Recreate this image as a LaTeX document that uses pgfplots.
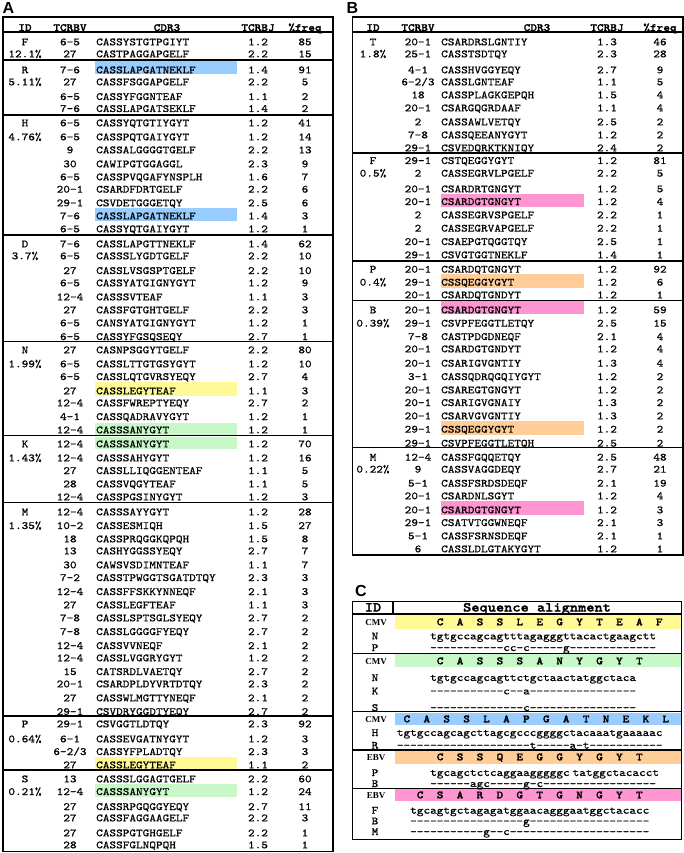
\documentclass[border=0pt]{standalone}
\usepackage{fontspec}
\setmonofont{lmmono10-regular}[Extension=.otf, BoldFont=lmmonolt10-bold, FakeStretch=1.15,
  UprightFeatures={FakeBold=0.6}, BoldFeatures={FakeBold=1.6}]
\newfontfamily\hel{Liberation Sans}
\newfontfamily\tms{Liberation Serif}
\usepackage{pgfplots}
\pgfplotsset{compat=1.18}
\usepackage{pgfplotstable}
\newcommand\tf{\ttfamily\fontsize{11}{13}\selectfont}
\newcommand\tfb{\ttfamily\bfseries\fontsize{11}{13}\selectfont}
\definecolor{hblue}{RGB}{153,204,255}
\definecolor{hyel}{RGB}{255,250,150}
\definecolor{hgrn}{RGB}{200,248,200}
\definecolor{hpink}{RGB}{255,150,210}
\definecolor{horg}{RGB}{255,205,152}
\pgfplotsset{txt/.style={draw=none, mark=none, nodes near coords, point meta=explicit symbolic,
  every node near coord/.append style={font=\tf, anchor=#1, inner sep=0pt, text=black}}}
% helpers (arguments substituted at call time)
\newcommand\hlA[1]{\draw[line width=1.1pt] (axis cs:3,#1) -- (axis cs:333,#1);}
\newcommand\hlB[1]{\draw[line width=1.1pt] (axis cs:352.7,#1) -- (axis cs:683,#1);}
\newcommand\hlC[1]{\draw[line width=1.1pt] (axis cs:352.7,#1) -- (axis cs:681.7,#1);}
\newcommand\lab[3]{\node[font=\tf, anchor=base, inner sep=0pt] at (axis cs:#1,#2+3.3) {#3};}
\newcommand\hdr[2]{\node[font=\tfb, anchor=base, inner sep=0pt] at (axis cs:#1,31) {#2};}
\newcommand\cmv[2]{\node[font=\tms\bfseries\fontsize{9}{10}\selectfont, anchor=base, inner sep=0pt] at (axis cs:376,#1) {#2};}
\newcommand\cid[2]{\node[font=\tf, anchor=base, inner sep=0pt] at (axis cs:375,#1) {#2};}
% one amino acid per codon (3 characters wide)
\newcommand\ac[1]{\makebox[19.92pt][c]{#1}}
\newcommand\aarow[3]{\node[font=\tfb, anchor=base west, inner sep=0pt] at (axis cs:#1,#2) {#3};}

\pgfplotstableread{
y bv cdr j f
42 6-5 CASSYSTGTPGIYT 1.2 85
54 27 CASTPAGGAPGELF 2.2 15
70 7-6 CASSLAPGATNEKLF 1.4 91
82 27 CASSFSGGAPGELF 2.2 5
96.7 6-5 CASSYFGGNTEAF 1.1 2
108.7 7-6 CASSLAPGATSEKLF 1.4 2
123 6-5 CASSYQTGTIYGYT 1.2 41
137 6-5 CASSPQTGAIYGYT 1.2 14
150 9 CASSALGGGGTGELF 2.2 13
164 30 CAWIPGTGGAGGL 2.3 9
177 6-5 CASSPVQGAFYNSPLH 1.6 7
189.3 20-1 CSARDFDRTGELF 2.2 6
203 29-1 CSVDETGGGETQY 2.5 6
216 7-6 CASSLAPGATNEKLF 1.4 3
229 6-5 CASSYQTGAIYGYT 1.2 1
244 7-6 CASSLAPGTTNEKLF 1.4 62
256 6-5 CASSSLYGDTGELF 2.2 10
270.7 27 CASSLVSGSPTGELF 2.2 10
283 6-5 CASSYATGIGNYGYT 1.2 9
297 12-4 CASSSVTEAF 1.1 3
310 27 CASSFGTGHTGELF 2.2 3
323 6-5 CANSYATGIGNYGYT 1.2 1
336.7 6-5 CASSYFGSQSEQY 2.7 1
350 27 CASNPSGGYTGELF 2.2 80
364 6-5 CASSLTTGTGSYGYT 1.2 10
376.7 6-5 CASSLQTGVRSYEQY 2.7 4
391 27 CASSLEGYTEAF 1.1 3
403 12-4 CASSFWREPTYEQY 2.7 2
416.7 4-1 CASSQADRAVYGYT 1.2 1
430 12-4 CASSSANYGYT 1.2 1
444 12-4 CASSSANYGYT 1.2 70
458 12-4 CASSSAHYGYT 1.2 16
470.7 27 CASSLLIQGGENTEAF 1.1 5
484 28 CASSVQGYTEAF 1.1 5
497 12-4 CASSPGSINYGYT 1.2 3
512 12-4 CASSSAYYGYT 1.2 28
525.7 10-2 CASSESMIQH 1.5 27
539 18 CASSPRQGGKQPQH 1.5 8
551 13 CASHYGGSSYEQY 2.7 7
565 30 CAWSVSDIMNTEAF 1.1 7
577.7 7-2 CASSTPWGGTSGATDTQY 2.3 3
591.7 12-4 CASSFFSKKYNNEQF 2.1 3
605 27 CASSLEGFTEAF 1.1 3
618 7-8 CASSLSPTSGLSYEQY 2.7 2
631.7 7-8 CASSLGGGGFYEQY 2.7 2
645.7 12-4 CASSVVNEQF 2.1 2
658 12-4 CASSLVGGRYGYT 1.2 2
671.7 15 CATSRDLVAETQY 2.7 2
684 20-1 CSARDPLDYVRTDTQY 2.3 2
698 27 CASSWLMGTTYNEQF 2.1 2
711.7 29-1 CSVDRYGGDTYEQY 2.7 2
724 29-1 CSVGGTLDTQY 2.3 92
739 6-1 CASSEVGATNYGYT 1.2 3
751.7 6-2/3 CASSYFPLADTQY 2.3 3
765 27 CASSLEGYTEAF 1.1 2
779 13 CASSSLGGAGTGELF 2.2 60
791.7 12-4 CASSSANYGYT 1.2 24
806.7 27 CASSRPGQGGYEQY 2.7 11
818 27 CASSFAGGAAGELF 2.2 3
833 27 CASSPGTGHGELF 2.2 1
845 28 CASSFGLNQPQH 1.5 1
}\tabA

\pgfplotstableread{
y bv cdr j f
42 20-1 CSARDRSLGNTIY 1.3 46
54 25-1 CASSTSDTQY 2.3 28
70 4-1 CASSHVGGYEQY 2.7 9
82 6-2/3 CASSLGNTEAF 1.1 5
95 18 CASSPLAGKGEPQH 1.5 4
108 20-1 CSARGQGRDAAF 1.1 4
122 2 CASSAWLVETQY 2.5 2
135 7-8 CASSQEEANYGYT 1.2 2
148 29-1 CSVEDQRKTKNIQY 2.4 2
160.7 29-1 CSTQEGGYGYT 1.2 81
173.3 2 CASSEGRVLPGELF 2.2 5
189 20-1 CSARDRTGNGYT 1.2 5
201.7 20-1 CSARDGTGNGYT 1.2 4
215 2 CASSEGRVSPGELF 2.2 1
228.3 2 CASSEGRVAPGELF 2.2 1
241.7 20-1 CSAEPGTQGGTQY 2.5 1
255 29-1 CSVGTGGTNEKLF 1.4 1
269.3 20-1 CSARDQTGNGYT 1.2 92
282.3 29-1 CSSQEGGYGYT 1.2 6
295 20-1 CSARDQTGNDYT 1.2 1
310 20-1 CSARDGTGNGYT 1.2 59
323.3 29-1 CSVPFEGGTLETQY 2.5 15
336.7 7-8 CASTPDGDNEQF 2.1 4
349 20-1 CSARDGTGNDYT 1.2 4
363.3 20-1 CSARIGVGNTIY 1.3 4
376.7 3-1 CASSQDRQGQIYGYT 1.2 2
390 20-1 CSAREGTGNGYT 1.2 2
402.7 20-1 CSARIGVGNAIY 1.3 2
416 20-1 CSARVGVGNTIY 1.3 2
429.3 29-1 CSSQEGGYGYT 1.2 2
443.3 29-1 CSVPFEGGTLETQH 2.5 2
457.3 12-4 CASSFGQQETQY 2.5 48
469.3 9 CASSVAGGDEQY 2.7 21
483.3 5-1 CASSFSRDSDEQF 2.1 19
496 20-1 CSARDNLSGYT 1.2 4
510 20-1 CSARDGTGNGYT 1.2 3
522.7 29-1 CSATVTGGWNEQF 2.1 3
536 5-1 CASSFSRNSDEQF 2.1 1
549 6 CASSLDLGTAKYGYT 1.2 1
}\tabB

\begin{document}
\begin{tikzpicture}
\begin{axis}[width=684pt, height=853pt, scale only axis, hide axis,
  xmin=0, xmax=684, ymin=0, ymax=853, y dir=reverse, clip=false]
\fill[white] (axis cs:0,0) rectangle (axis cs:684,853);
% ---------- highlights A
\fill[hblue] (axis cs:95,61) rectangle (axis cs:237,74);
\fill[hblue] (axis cs:95,208.3) rectangle (axis cs:237,220.5);
\fill[hyel] (axis cs:95,382.3) rectangle (axis cs:237,395.7);
\fill[hgrn] (axis cs:95,422.7) rectangle (axis cs:237,436);
\fill[hgrn] (axis cs:95,436.7) rectangle (axis cs:237,449);
\fill[hyel] (axis cs:95,756.7) rectangle (axis cs:237,770);
\fill[hgrn] (axis cs:95,784.3) rectangle (axis cs:237,796.7);
% ---------- highlights B
\fill[hpink] (axis cs:441,194) rectangle (axis cs:584,206.7);
\fill[horg] (axis cs:441,274.3) rectangle (axis cs:584,287.7);
\fill[hpink] (axis cs:441,301) rectangle (axis cs:584,314.3);
\fill[horg] (axis cs:441,421) rectangle (axis cs:584,435);
\fill[hpink] (axis cs:441,501) rectangle (axis cs:584,515);
% ---------- bands C
\fill[hyel] (axis cs:394.5,615) rectangle (axis cs:681.7,628.5);
\fill[hgrn] (axis cs:394.5,654) rectangle (axis cs:681.7,667);
\fill[hblue] (axis cs:394.5,712.5) rectangle (axis cs:681.7,725);
\fill[horg] (axis cs:394.5,750.5) rectangle (axis cs:681.7,763.5);
\fill[hpink] (axis cs:394.5,789) rectangle (axis cs:681.7,801);
% ---------- frames
\draw[line width=1.1pt] (axis cs:3,17) rectangle (axis cs:333,851.7);
\hlA{32}\hlA{60}\hlA{115}\hlA{235}\hlA{341.7}\hlA{435.7}\hlA{502.7}\hlA{716}\hlA{770}
\draw[line width=1.1pt] (axis cs:352.7,17) rectangle (axis cs:683,555);
\hlB{32}\hlB{153}\hlB{261}\hlB{300.7}\hlB{447.7}
\draw[line width=1.1pt] (axis cs:352.7,601.7) rectangle (axis cs:681.7,839.3);
\hlC{614}\hlC{653.3}\hlC{711.7}\hlC{750}\hlC{788.3}
\draw[line width=1.1pt] (axis cs:393,601.7) -- (axis cs:393,614);
% ---------- panel letters
\node[font=\hel\bfseries\fontsize{16}{18}\selectfont, anchor=base west, inner sep=0pt] at (axis cs:2.5,13.5) {A};
\node[font=\hel\bfseries\fontsize{16}{18}\selectfont, anchor=base west, inner sep=0pt] at (axis cs:346.5,13.5) {B};
\node[font=\hel\bfseries\fontsize{16}{18}\selectfont, anchor=base west, inner sep=0pt] at (axis cs:355,596) {C};
% ---------- headers A and B
\hdr{25}{ID}\hdr{70}{TCRBV}\hdr{167}{CDR3}\hdr{258}{TCRBJ}\hdr{305}{\%freq}
\hdr{373}{ID}\hdr{418}{TCRBV}\hdr{537}{CDR3}\hdr{607}{TCRBJ}\hdr{660}{\%freq}
% ---------- table A
\addplot[txt=base] table[x expr=70, y expr=\thisrow{y}+3.3, meta=bv] {\tabA};
\addplot[txt=base west] table[x expr=96, y expr=\thisrow{y}+3.3, meta=cdr] {\tabA};
\addplot[txt=base] table[x expr=258, y expr=\thisrow{y}+3.3, meta=j] {\tabA};
\addplot[txt=base] table[x expr=305, y expr=\thisrow{y}+3.3, meta=f] {\tabA};
% ---------- table B
\addplot[txt=base] table[x expr=418, y expr=\thisrow{y}+3.3, meta=bv] {\tabB};
\addplot[txt=base west] table[x expr=441, y expr=\thisrow{y}+3.3, meta=cdr] {\tabB};
\addplot[txt=base] table[x expr=607, y expr=\thisrow{y}+3.3, meta=j] {\tabB};
\addplot[txt=base] table[x expr=660, y expr=\thisrow{y}+3.3, meta=f] {\tabB};
% ---------- IDs A
\lab{25}{42}{F}\lab{25}{54}{12.1\%}
\lab{25}{70}{R}\lab{25}{82}{5.11\%}
\lab{25}{123}{H}\lab{25}{137}{4.76\%}
\lab{25}{244}{D}\lab{25}{256}{3.7\%}
\lab{25}{350}{N}\lab{25}{364}{1.99\%}
\lab{25}{444}{K}\lab{25}{458}{1.43\%}
\lab{25}{512}{M}\lab{25}{525.7}{1.35\%}
\lab{25}{724}{P}\lab{25}{739}{0.64\%}
\lab{25}{779}{S}\lab{25}{791.7}{0.21\%}
% ---------- IDs B
\lab{373}{42}{T}\lab{373}{54}{1.8\%}
\lab{373}{160.7}{F}\lab{373}{173.3}{0.5\%}
\lab{373}{269.3}{P}\lab{373}{282.3}{0.4\%}
\lab{373}{310}{B}\lab{373}{323.3}{0.39\%}
\lab{373}{457.3}{M}\lab{373}{469.3}{0.22\%}
% ---------- panel C
\node[font=\ttfamily\bfseries\fontsize{13.6}{15}\selectfont, anchor=base, inner sep=0pt] at (axis cs:373,611.5) {ID};
\node[font=\ttfamily\bfseries\fontsize{13.6}{15}\selectfont, anchor=base, inner sep=0pt] at (axis cs:537,611.5) {Sequence alignment};
\cmv{625.3}{CMV}\cmv{664.3}{CMV}\cmv{722.3}{CMV}\cmv{760.3}{EBV}\cmv{798.3}{EBV}
\cid{639.4}{N}\cid{651}{P}\cid{681}{N}\cid{694.4}{K}\cid{711}{S}\cid{736}{H}\cid{748.7}{R}
\cid{776}{P}\cid{787}{B}\cid{813.7}{F}\cid{824.4}{B}\cid{835}{M}
\aarow{430}{625.3}{\ac C\ac A\ac S\ac S\ac L\ac E\ac G\ac Y\ac T\ac E\ac A\ac F}
\node[font=\tf, anchor=base west, inner sep=0pt] at (axis cs:430,639.4) {tgtgccagcagtttagagggttacactgaagctt};
\node[font=\tf, anchor=base west, inner sep=0pt] at (axis cs:430,651) {-----------cc-c-----g-------------};
\aarow{430}{664.3}{\ac C\ac A\ac S\ac S\ac S\ac A\ac N\ac Y\ac G\ac Y\ac T}
\node[font=\tf, anchor=base west, inner sep=0pt] at (axis cs:430,681) {tgtgccagcagttctgctaactatggctaca};
\node[font=\tf, anchor=base west, inner sep=0pt] at (axis cs:430,694.4) {-----------c--a----------------};
\node[font=\tf, anchor=base west, inner sep=0pt] at (axis cs:430,711) {--------------c----------------};
\aarow{396.7}{722.3}{\ac C\ac A\ac S\ac S\ac L\ac A\ac P\ac G\ac A\ac T\ac N\ac E\ac K\ac L}
\node[font=\tf, anchor=base west, inner sep=0pt] at (axis cs:396.7,736) {tgtgccagcagcttagcgcccggggctacaaatgaaaaac};
\node[font=\tf, anchor=base west, inner sep=0pt] at (axis cs:396.7,748.7) {--------------------t-----a-t-----------};
\aarow{430}{760.3}{\ac C\ac S\ac S\ac Q\ac E\ac G\ac G\ac Y\ac G\ac Y\ac T}
\node[font=\tf, anchor=base west, inner sep=0pt] at (axis cs:430,776) {tgcagctctcaggaagggggc\hspace{3pt}tatggctacacct};
\node[font=\tf, anchor=base west, inner sep=0pt] at (axis cs:430,787) {------agc-----g-c-----------------};
\aarow{410}{798.3}{\ac C\ac S\ac A\ac R\ac D\ac G\ac T\ac G\ac N\ac G\ac Y\ac T}
\node[font=\tf, anchor=base west, inner sep=0pt] at (axis cs:410,813.7) {tgcagtgctagagatggaacagggaatggctacacc};
\node[font=\tf, anchor=base west, inner sep=0pt] at (axis cs:410,824.4) {-----------------g------------------};
\node[font=\tf, anchor=base west, inner sep=0pt] at (axis cs:410,835) {-----------g--c---------------------};
\end{axis}
\end{tikzpicture}
\end{document}
